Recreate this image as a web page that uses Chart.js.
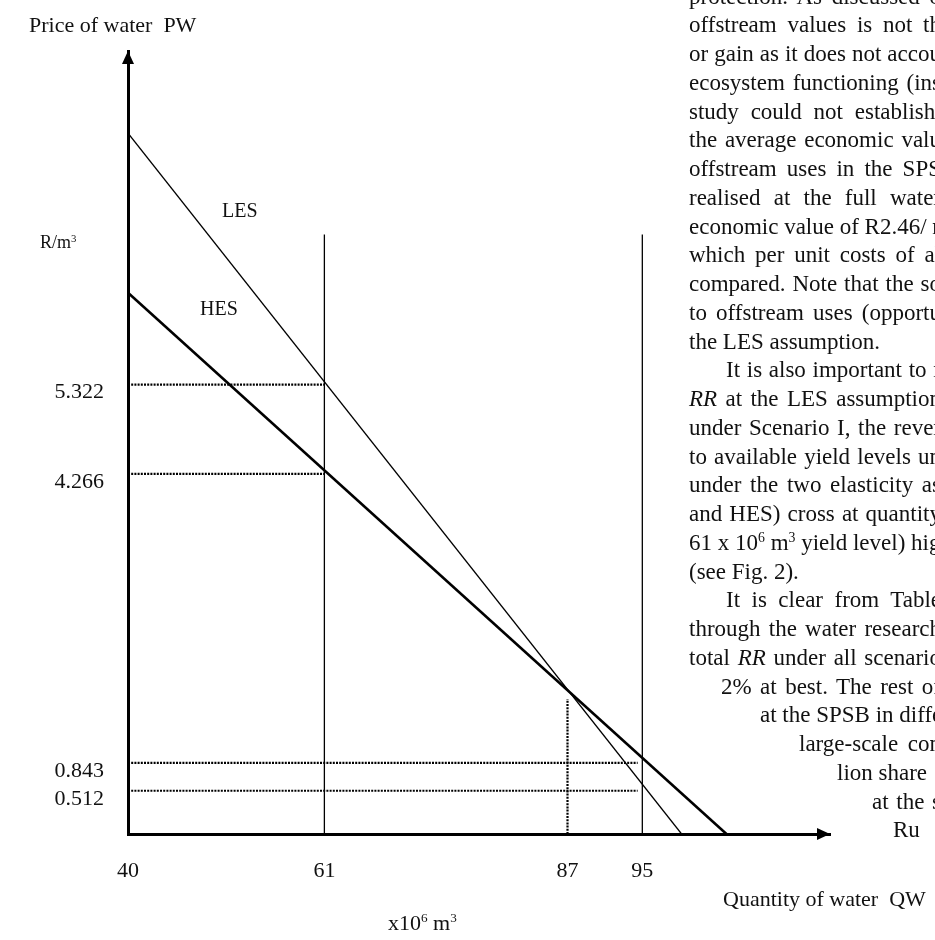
<!DOCTYPE html>
<html>
<head>
<meta charset="utf-8">
<script src="https://cdn.jsdelivr.net/npm/chart.js@4.4.1/dist/chart.umd.min.js"></script>
<style>
  html, body { margin: 0; padding: 0; background: #fff; }
  body { width: 935px; height: 940px; position: relative; overflow: hidden; font-family: "Liberation Serif", "Times New Roman", serif; color: #111; }
  #c { position: absolute; left: 0; top: 0; }
  .lbl { position: absolute; font-size: 22px; line-height: 22px; white-space: pre; }
  .lbl sup, .txt sup { font-size: 60%; line-height: 0; vertical-align: 0.6em; }
  .txt { position: absolute; font-size: 23px; line-height: 28.75px; height: 28.75px; white-space: nowrap; }
  .txt.j { text-align: justify; text-align-last: justify; }
</style>
</head>
<body>
<canvas id="c" width="935" height="940"></canvas>

<div class="lbl" style="left:29px; top:14px;">Price of water  PW</div>
<div class="lbl" style="left:40px; top:231px; font-size:18px;">R/m<sup>3</sup></div>
<div class="lbl" style="left:222px; top:199px; font-size:20px;">LES</div>
<div class="lbl" style="left:200px; top:297px; font-size:20px;">HES</div>
<div class="lbl" style="left:723px; top:888px;">Quantity of water  QW</div>
<div class="lbl" style="left:388px; top:912px;">x10<sup>6</sup> m<sup>3</sup></div>

<div id="page"></div>

<script>
// demand curves (quantity x10^6 m3, price R/m3)
const lesQty = [40, 99.2];
const lesPrice = [8.3, 0];
const hesQty = [40, 104.0];
const hesPrice = [6.41, 0];

// tick labels
const qtyTicks = [40, 61, 87, 95];
const priceTicks = [0.512, 0.843, 4.266, 5.322];

// dotted price levels and where they stop
const priceLevels = [5.322, 4.266, 0.843, 0.512];
const levelEnds = [61, 61, 94.5, 94.5];

// yield levels (solid verticals) and the crossing point (dotted vertical)
const yieldQty = [61, 95];
const yieldTop = 7.1;
const crossQty = 87;
const crossPrice = 1.6;

// surrounding body text of the page
const pageLines = [
  [689, 'protection. As discussed o', true],
  [689, 'offstream values is not th', true],
  [689, 'or gain as it does not accou', true],
  [689, 'ecosystem functioning (ins', true],
  [689, 'study could not establish.', true],
  [689, 'the average economic valu', true],
  [689, 'offstream uses in the SPS', true],
  [689, 'realised at the full water', true],
  [689, 'economic value of R2.46/ m', true],
  [689, 'which per unit costs of al', true],
  [689, 'compared. Note that the so', true],
  [689, 'to offstream uses (opportu', true],
  [689, 'the LES assumption.', false],
  [726, 'It is also important to r', true],
  [689, '<i>RR</i> at the LES assumption', true],
  [689, 'under Scenario I, the rever', true],
  [689, 'to available yield levels un', true],
  [689, 'under the two elasticity as', true],
  [689, 'and HES) cross at quantity', true],
  [689, '61 x 10<sup>6</sup> m<sup>3</sup> yield level) high', true],
  [689, '(see Fig. 2).', false],
  [726, 'It is clear from Table', true],
  [689, 'through the water research', true],
  [689, 'total <i>RR</i> under all scenario', true],
  [721, '2% at best. The rest of', true],
  [760, 'at the SPSB in diffe', true],
  [799, 'large-scale con', true],
  [837, 'lion share', false],
  [872, 'at the s', true],
  [893, 'Ru', false],
];

const page = document.getElementById('page');
page.innerHTML = pageLines.map(([left, text, just], i) => {
  const top = -3 + i * 28.75 - 14.4;
  return `<div class="txt${just ? ' j' : ''}" style="left:${left}px; top:${top}px; width:${941 - left}px;">${text}</div>`;
}).join('');
// lines wider than the column run off the page edge instead of wrapping
page.querySelectorAll('.txt.j').forEach(el => {
  if (el.scrollWidth > el.clientWidth) el.classList.remove('j');
  else el.style.whiteSpace = 'normal';
});

const pts = (xs, ys) => xs.map((x, i) => ({ x, y: ys[i] }));
const line = (data, width, dash) => ({
  data, showLine: true, borderColor: '#000', borderWidth: width,
  borderDash: dash || [], pointRadius: 0, fill: false,
});
const dots = [2, 1.2];

const datasets = [
  line(pts(lesQty, lesPrice), 1.3),
  line(pts(hesQty, hesPrice), 2.6),
  ...yieldQty.map(q => line([{ x: q, y: 0 }, { x: q, y: yieldTop }], 1.3)),
  line([{ x: crossQty, y: 0 }, { x: crossQty, y: crossPrice }], 2.2, dots),
  ...priceLevels.map((p, i) => line([{ x: 40, y: p }, { x: levelEnds[i], y: p }], 2.2, dots)),
];

const font = { family: '"Liberation Serif", "Times New Roman", serif', size: 22 };

const arrows = {
  id: 'arrows',
  afterDraw(chart) {
    const { ctx, chartArea: { left, right, top, bottom } } = chart;
    ctx.save();
    ctx.fillStyle = '#000';
    ctx.beginPath();
    ctx.moveTo(left, top);
    ctx.lineTo(left - 6, top + 13);
    ctx.lineTo(left + 6, top + 13);
    ctx.closePath();
    ctx.fill();
    ctx.beginPath();
    ctx.moveTo(right, bottom);
    ctx.lineTo(right - 13, bottom - 6);
    ctx.lineTo(right - 13, bottom + 6);
    ctx.closePath();
    ctx.fill();
    ctx.restore();
  },
};

new Chart(document.getElementById('c'), {
  type: 'scatter',
  data: { datasets },
  plugins: [arrows],
  options: {
    responsive: false,
    animation: false,
    layout: { padding: { top: 51, right: 105, left: 0, bottom: 0 } },
    plugins: { legend: { display: false }, tooltip: { enabled: false } },
    scales: {
      x: {
        type: 'linear', min: 40, max: 115.07,
        afterBuildTicks: s => { s.ticks = qtyTicks.map(v => ({ value: v })); },
        afterFit: s => { s.height = 106; },
        grid: { display: false, drawTicks: false },
        border: { display: true, color: '#000', width: 3 },
        ticks: { color: '#111', font, padding: 24, maxRotation: 0, autoSkip: false, callback: v => String(v) },
      },
      y: {
        type: 'linear', min: 0, max: 9.273,
        afterBuildTicks: s => { s.ticks = priceTicks.map(v => ({ value: v })); },
        afterFit: s => { s.width = 128; },
        grid: { display: false, drawTicks: false },
        border: { display: true, color: '#000', width: 3 },
        ticks: { color: '#111', font, padding: 24, labelOffset: 8, autoSkip: false, callback: v => v.toFixed(3) },
      },
    },
  },
});
</script>
</body>
</html>
